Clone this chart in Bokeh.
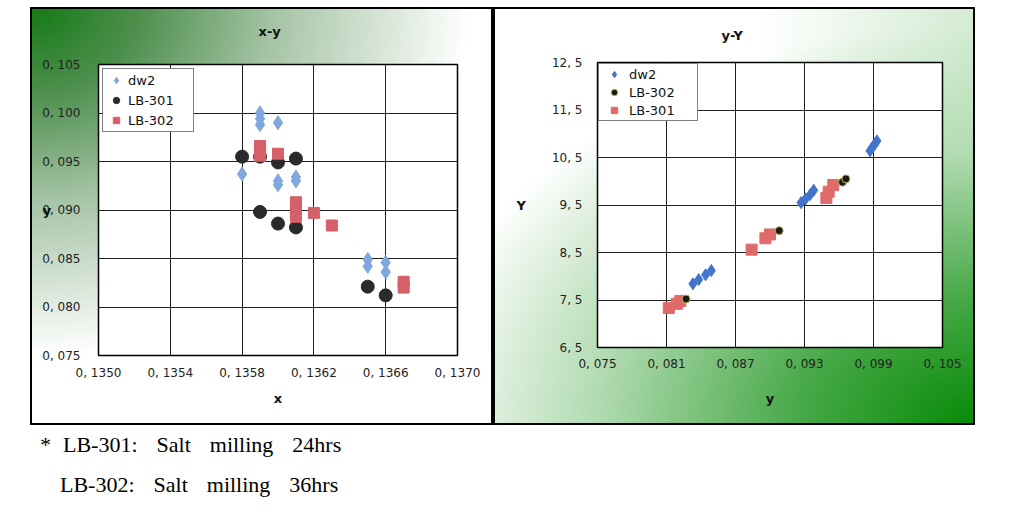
from bokeh.plotting import figure
from bokeh.models import Legend, LegendItem, Div, Spacer, FixedTicker, CustomJSTickFormatter
from bokeh.layouts import row, column
from bokeh.embed import file_html
from bokeh.resources import INLINE

# ---------------- left chart: x-y ----------------
left_title = "x-y"
left_xticks = [0.1350, 0.1354, 0.1358, 0.1362, 0.1366, 0.1370]
left_yticks = [0.075, 0.080, 0.085, 0.090, 0.095, 0.100, 0.105]

xy_dw2_x = [0.1359, 0.1359, 0.1359, 0.1360, 0.1358, 0.1360, 0.1360, 0.1361, 0.1361, 0.1365, 0.1365, 0.1366, 0.1366]
xy_dw2_y = [0.1000, 0.0994, 0.0988, 0.0990, 0.0937, 0.0930, 0.0926, 0.0934, 0.0930, 0.0849, 0.0842, 0.0846, 0.0836]

xy_lb301_x = [0.1358, 0.1359, 0.1360, 0.1361, 0.1359, 0.1360, 0.1361, 0.1365, 0.1366]
xy_lb301_y = [0.0955, 0.0955, 0.0949, 0.0953, 0.0898, 0.0886, 0.0882, 0.0821, 0.0812]

xy_lb302_x = [0.1359, 0.1359, 0.1359, 0.1360, 0.1361, 0.1361, 0.1361, 0.1361, 0.1362, 0.1363, 0.1367, 0.1367]
xy_lb302_y = [0.0966, 0.0961, 0.0956, 0.0958, 0.0908, 0.0903, 0.0898, 0.0893, 0.0897, 0.0884, 0.0826, 0.0820]

# ---------------- right chart: y-Y ----------------
right_title = "y-Y"
right_xticks = [0.075, 0.081, 0.087, 0.093, 0.099, 0.105]
right_yticks = [6.5, 7.5, 8.5, 9.5, 10.5, 11.5, 12.5]

yY_dw2_x = [0.0987, 0.0989, 0.0991, 0.0993, 0.0927, 0.0931, 0.0935, 0.0938, 0.0833, 0.0838, 0.0844, 0.0849]
yY_dw2_y = [10.64, 10.71, 10.78, 10.85, 9.55, 9.63, 9.72, 9.81, 7.84, 7.93, 8.03, 8.12]

yY_lb302_x = [0.0963, 0.0966, 0.0908, 0.0827]
yY_lb302_y = [9.98, 10.05, 8.96, 7.52]

yY_lb301_x = [0.0949, 0.0951, 0.0955, 0.0884, 0.0896, 0.0900, 0.0812, 0.0819, 0.0822]
yY_lb301_y = [9.65, 9.78, 9.92, 8.56, 8.80, 8.88, 7.33, 7.42, 7.48]

footnote_marks = ["*", ""]
footnote_texts = ["LB-301:&nbsp; Salt&nbsp; milling&nbsp; 24hrs",
                  "LB-302:&nbsp; Salt&nbsp; milling&nbsp; 36hrs"]

FONT = "DejaVu Sans"


def fmt(digits):
    return CustomJSTickFormatter(code="return tick.toFixed(%d).replace('.', ', ');" % digits)


def base_fig(w, h, xr, yr, borders, bg_css, title, title_standoff, title_offset):
    p = figure(width=w, height=h, x_range=xr, y_range=yr,
               output_backend="svg", toolbar_location=None,
               min_border_left=borders[0], min_border_right=borders[1],
               min_border_top=borders[2], min_border_bottom=borders[3],
               styles={"background": bg_css,
                       "box-shadow": "inset 0 0 0 2px #000000"})
    p.border_fill_color = None
    p.background_fill_color = "white"
    p.outline_line_color = "black"
    p.outline_line_width = 1.5
    p.grid.grid_line_color = "#1e1e1e"
    p.grid.grid_line_width = 1
    p.grid.grid_line_alpha = 1
    # trailing blank line gives the title box extra height so the text sits higher
    p.title.text = title + "\n "
    p.title.align = "left"
    p.title.vertical_align = "top"
    p.title.standoff = title_standoff
    p.title.offset = title_offset
    p.title.text_font = FONT
    p.title.text_font_size = "13px"
    p.title.text_font_style = "bold"
    p.title.text_color = "#111111"
    for ax in (p.xaxis[0], p.yaxis[0]):
        ax.axis_line_color = None
        ax.major_tick_line_color = None
        ax.minor_tick_line_color = None
        ax.major_label_text_font = FONT
        ax.major_label_text_font_size = "12px"
        ax.major_label_text_color = "#222222"
        ax.axis_label_text_font = FONT
        ax.axis_label_text_font_size = "13px"
        ax.axis_label_text_font_style = "bold"
        ax.axis_label_text_color = "#111111"
    return p


# ---- left figure ----
left = base_fig(463, 418, (left_xticks[0], left_xticks[-1]), (left_yticks[0], left_yticks[-1]),
                (68, 36, 57, 70),
                "radial-gradient(ellipse 440px 350px at 0 0, #137a13 0%, #4e8f4e 25%, #a4c3a4 55%, #ffffff 100%)",
                left_title, 18, 160)
left.xaxis.ticker = FixedTicker(ticks=left_xticks)
left.yaxis.ticker = FixedTicker(ticks=left_yticks)
left.xaxis.formatter = fmt(4)
left.yaxis.formatter = fmt(3)
left.xaxis.axis_label = "x"
left.yaxis.axis_label = "y"
left.yaxis.axis_label_orientation = "horizontal"
left.xaxis.major_label_standoff = 4
left.yaxis.major_label_standoff = 12
left.xaxis.axis_label_standoff = 8
left.yaxis.axis_label_standoff = -12

l1 = left.scatter(xy_dw2_x, xy_dw2_y, marker="diamond", size=14, fill_color="#7ea8de", line_color="#7ea8de")
l2 = left.scatter(xy_lb301_x, xy_lb301_y, marker="circle", size=13, fill_color="#2a2a2a", line_color="#2a2a2a")
l3 = left.scatter(xy_lb302_x, xy_lb302_y, marker="square", size=11, fill_color="#d6606a", line_color="#d6606a")

leg_l = Legend(items=[LegendItem(label="dw2", renderers=[l1]),
                      LegendItem(label="LB-301", renderers=[l2]),
                      LegendItem(label="LB-302", renderers=[l3])],
               location="top_left")
left.add_layout(leg_l)

# ---- right figure ----
right = base_fig(482, 418, (right_xticks[0], right_xticks[-1]), (right_yticks[0], right_yticks[-1]),
                 (104, 33, 55, 78),
                 "radial-gradient(ellipse 700px 500px at 100% 100%, #078a07 0%, #46a846 25%, #b4dcb4 55%, rgba(255,255,255,0) 80%), linear-gradient(90deg, #ffffff 55%, #d3ebd3 100%)",
                 right_title, 6, 124)
right.xaxis.ticker = FixedTicker(ticks=right_xticks)
right.yaxis.ticker = FixedTicker(ticks=right_yticks)
right.xaxis.formatter = fmt(3)
right.yaxis.formatter = fmt(1)
right.xaxis.axis_label = "y"
right.yaxis.axis_label = "Y"
right.yaxis.axis_label_orientation = "horizontal"
right.xaxis.major_label_standoff = 3
right.yaxis.major_label_standoff = 9
right.xaxis.axis_label_standoff = 17
right.yaxis.axis_label_standoff = 23

r1 = right.scatter(yY_dw2_x, yY_dw2_y, marker="diamond", size=12, fill_color="#4274cc", line_color="#4274cc")
r3 = right.scatter(yY_lb301_x, yY_lb301_y, marker="square", size=11, fill_color="#e06a6a", line_color="#e06a6a")
r2 = right.scatter(yY_lb302_x, yY_lb302_y, marker="circle", size=8, fill_color="#1a1a1a", line_color="#b8b850", line_width=1)

leg_r = Legend(items=[LegendItem(label="dw2", renderers=[r1]),
                      LegendItem(label="LB-302", renderers=[r2]),
                      LegendItem(label="LB-301", renderers=[r3])],
               location="top_left")
right.add_layout(leg_r)

for lg in (leg_l, leg_r):
    lg.border_line_color = "black"
    lg.border_line_width = 1.5
    lg.background_fill_color = "white"
    lg.background_fill_alpha = 1
    lg.label_text_font = FONT
    lg.label_text_font_size = "13px"
    lg.label_text_color = "#111111"
    lg.label_height = 16
    lg.glyph_height = 16
    lg.spacing = 2
    lg.label_standoff = 2
leg_l.margin = 4
leg_l.padding = 3
leg_l.glyph_width = 20
leg_l.spacing = 4
leg_l.label_width = 62
leg_r.margin = 1
leg_r.padding = 2
leg_r.glyph_width = 26
leg_r.label_width = 66

lines = []
for mark, txt in zip(footnote_marks, footnote_texts):
    w = 23 if mark else 20
    lines.append("<span style='display:inline-block;width:%dpx'>%s</span>%s" % (w, mark, txt))
notes = Div(text="<div style=\"position:relative; top:-5px; font-family:'Liberation Serif'; font-size:22px; color:#000; line-height:40px; word-spacing:4px; white-space:nowrap;\">"
                 + "<br>".join(lines) + "</div>",
            width=520, height=92, styles={"margin-left": "40px"})

layout = column(Spacer(width=10, height=7),
                row(Spacer(width=30, height=418), column(left), column(right)),
                notes)

open("out.html", "w").write(file_html(layout, INLINE))
